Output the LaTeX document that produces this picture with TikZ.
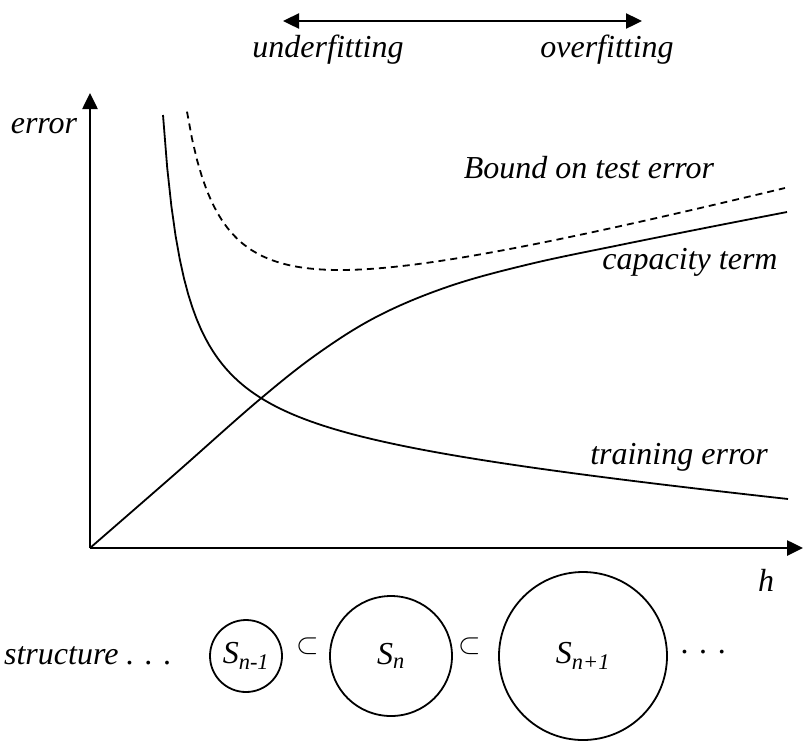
\documentclass[tikz,border=0pt]{standalone}
\usepackage{fontspec}
\setmainfont{Liberation Serif}
\usetikzlibrary{arrows.meta,shapes.geometric}
\tikzset{
  bigtip/.tip={Triangle[length=16pt,width=15pt]},
  lbl/.style={font=\fontsize{32}{38}\selectfont\itshape, inner sep=0pt},
  axis/.style={line width=2.6pt, -bigtip},
  curve/.style={line width=1.8pt},
  setcirc/.style={draw, ellipse, line width=1.8pt, inner sep=0pt,
    font=\fontsize{32}{38}\selectfont\itshape}
}
\newcommand{\subsetsym}{\scalebox{2.9}{$\subset$}}
\begin{document}
\begin{tikzpicture}[x=1pt,y=-1pt]
  \useasboundingbox (0,0) rectangle (803,740);

  % under/overfitting arrow
  \coordinate (L) at (283,21);
  \coordinate (R) at (642,21);
  \draw[line width=2.4pt, bigtip-bigtip] (L) -- (R);
  \node[lbl] (under) at (328,50) {underfitting};
  \node[lbl] (over) at (607,50) {overfitting};

  % axes
  \coordinate (O) at (90,548);
  \coordinate (Ytip) at (90,93);
  \coordinate (Xtip) at (803,548);
  \draw[axis] (O) -- (Ytip);
  \draw[axis] (O) -- (Xtip);
  \node[lbl] (err) at (44,126) {error};
  \node[lbl] (hlab) at (766,580) {h};

  % curves
  \draw[curve] plot[domain=163:788, samples=150]
    (\x, {511-7781/(\x-140)-0.0923*(788-\x)});
  \draw[curve] plot[smooth, tension=0.6] coordinates {(90,548) (175,474) (259,400)
    (320,352) (380,315) (450,286) (530,264) (620,245) (710,227) (787,212)};
  \draw[curve, dash pattern=on 7pt off 5pt] plot[domain=187:785, samples=120]
    (\x, {548-(161.4+97.25/((\x-148)/100)+0.2638*(\x-90))});

  \node[lbl] (bound) at (589,168) {Bound on test error};
  \node[lbl] (cap) at (690,262) {capacity term};
  \node[lbl] (train) at (679,457) {training error};

  % structure
  \node[lbl] (struct) at (88,656) {structure . . .};
  \node[setcirc, minimum width=72pt, minimum height=72pt] (Sa) at (246,656) {S\textsubscript{n-1}};
  \node[setcirc, minimum width=122pt, minimum height=120pt] (Sb) at (391,656) {S\textsubscript{n}};
  \node[setcirc, minimum width=168pt, minimum height=168pt] (Sc) at (583,656) {S\textsubscript{n+1}};
  \node[inner sep=0pt] (sub1) at (308,646) {\subsetsym};
  \node[inner sep=0pt] (sub2) at (470,646) {\subsetsym};
  \node[lbl] (dots) at (704,652) {. . .};
\end{tikzpicture}
\end{document}
